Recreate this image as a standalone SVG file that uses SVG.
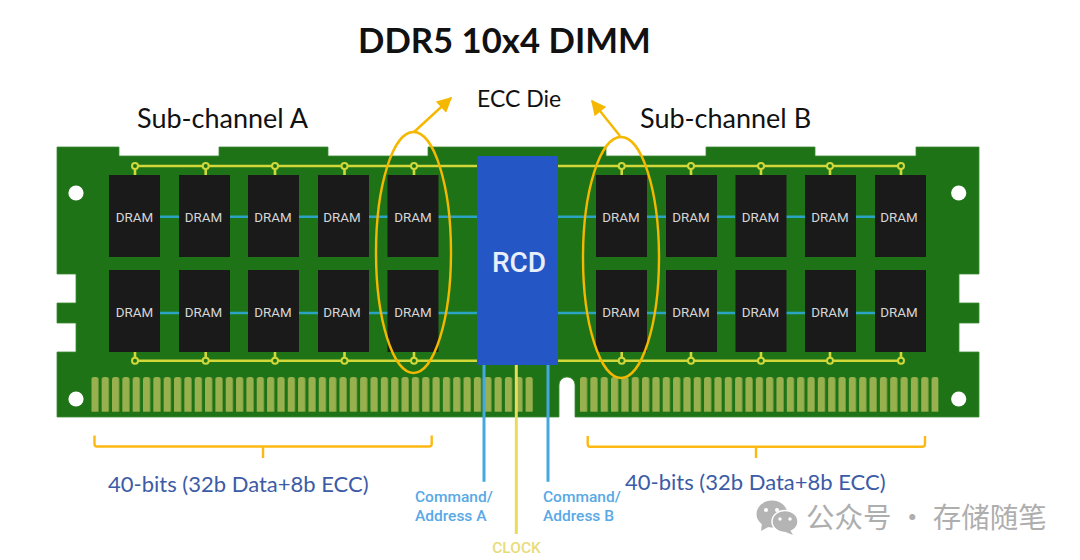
<svg xmlns="http://www.w3.org/2000/svg" width="1080" height="560" viewBox="0 0 1080 560">
<style>
.chip{fill:#1a1a1a}
.dl{font:400 13.400px Roboto,sans-serif;fill:#d6d6d6;text-anchor:middle}
.cy{stroke:#2aa3c4;stroke-width:2.400;fill:none}
.bus{stroke:#d3d83a;stroke-width:2.600;fill:none}
.tap{stroke:#d3d83a;stroke-width:2;fill:#1f7317}
.hole{fill:#fff}
.gold{stroke:#f5b800;stroke-width:2.400;fill:none}
.br{stroke:#fdb913;stroke-width:2.400;fill:none}
.cal{font-family:Lato,"Open Sans",sans-serif;fill:#111}
.bits{font:22px Lato,"Open Sans",sans-serif;fill:#3c5ba6}
.ca{font:500 15.500px Roboto,sans-serif;fill:#58a9e6}
</style>
<defs>
<pattern id="fl" x="91.3" y="0" width="10.34" height="560" patternUnits="userSpaceOnUse"><rect x="0" y="377" width="7.2" height="40" rx="2.5" fill="#98b04e"/></pattern>
<pattern id="fr" x="580" y="0" width="10.34" height="560" patternUnits="userSpaceOnUse"><rect x="0" y="377" width="7.2" height="40" rx="2.5" fill="#98b04e"/></pattern>
<marker id="ah" viewBox="0 0 10 10" refX="9" refY="5" markerWidth="16" markerHeight="15" markerUnits="userSpaceOnUse" orient="auto"><path d="M0 0L10 5L0 10Z" fill="#f5b800"/></marker>
</defs>
<rect width="1080" height="560" fill="#fff"/>
<g id="board">
<path d="M57 147H119V156H219V147H328V156H428V147H606V156H706V147H815V156H916V147H979V274H959V303H979V323H959V352H979V417H575V385A8 8 0 0 0 559 385V417H57V352H76V323H57V303H76V274H57Z" fill="#1f7317" stroke="#3d8a35" stroke-width=".8"/>
<circle class="hole" cx="76" cy="193" r="7.6"/><circle class="hole" cx="76" cy="399" r="7.6"/>
<circle class="hole" cx="958.7" cy="193" r="7.6"/><circle class="hole" cx="958.7" cy="399" r="7.6"/>
<rect x="91.3" y="377" width="442" height="34.7" fill="url(#fl)"/>
<rect x="580" y="377" width="358.5" height="34.7" fill="url(#fr)"/>
</g>
<g id="connectors">
<g id="data-lines">
<path class="cy" d="M160 216.7H179M230 216.7H248M299 216.7H318M369 216.7H388M438 216.7H477M558 216.7H596M647 216.7H666M717 216.7H735M786 216.7H805M856 216.7H875"/>
<path class="cy" d="M160 313H179M230 313H248M299 313H318M369 313H388M438 313H477M558 313H596M647 313H666M717 313H735M786 313H805M856 313H875"/>
</g>
<g id="clock-bus">
<path class="bus" d="M135 166H477M558 166H901M135 360.7H477M558 360.7H901"/>
<path class="bus" d="M135 166V175M205.7 166V175M275 166V175M344.5 166V175M414 166V175M621.7 166V175M691 166V175M761 166V175M830 166V175M901 166V175M135 352V361M205.7 352V361M275 352V361M344.5 352V361M414 352V361M621.7 352V361M691 352V361M761 352V361M830 352V361M901 352V361"/>
<g class="tap">
<circle cx="135" cy="166" r="3"/><circle cx="205.7" cy="166" r="3"/><circle cx="275" cy="166" r="3"/><circle cx="344.5" cy="166" r="3"/><circle cx="414" cy="166" r="3"/><circle cx="621.7" cy="166" r="3"/><circle cx="691" cy="166" r="3"/><circle cx="761" cy="166" r="3"/><circle cx="830" cy="166" r="3"/><circle cx="901" cy="166" r="3"/>
<circle cx="135" cy="360.7" r="3"/><circle cx="205.7" cy="360.7" r="3"/><circle cx="275" cy="360.7" r="3"/><circle cx="344.5" cy="360.7" r="3"/><circle cx="414" cy="360.7" r="3"/><circle cx="621.7" cy="360.7" r="3"/><circle cx="691" cy="360.7" r="3"/><circle cx="761" cy="360.7" r="3"/><circle cx="830" cy="360.7" r="3"/><circle cx="901" cy="360.7" r="3"/>
</g>
</g>
<path d="M484 365V481.7M548 365V481.7" stroke="#46a8e0" stroke-width="3" fill="none"/>
<path d="M516.3 365V534" stroke="#e8dc5a" stroke-width="3" fill="none"/>
<path class="gold" marker-end="url(#ah)" d="M414 132L451 98"/>
<path class="gold" marker-end="url(#ah)" d="M620 136L592 101"/>
</g>
<g id="chips">
<g id="a1-1"><rect class="chip" x="109" y="175" width="51" height="82"/><text class="dl" x="134.5" y="221.5">DRAM</text></g>
<g id="a1-2"><rect class="chip" x="179" y="175" width="51" height="82"/><text class="dl" x="203.5" y="221.5">DRAM</text></g>
<g id="a1-3"><rect class="chip" x="248" y="175" width="51" height="82"/><text class="dl" x="273" y="221.5">DRAM</text></g>
<g id="a1-4"><rect class="chip" x="318" y="175" width="51" height="82"/><text class="dl" x="342" y="221.5">DRAM</text></g>
<g id="a1-5"><rect class="chip" x="387.500" y="175" width="51" height="82"/><text class="dl" x="413" y="221.5">DRAM</text></g>
<g id="a2-1"><rect class="chip" x="109" y="270" width="51" height="82"/><text class="dl" x="134.5" y="317">DRAM</text></g>
<g id="a2-2"><rect class="chip" x="179" y="270" width="51" height="82"/><text class="dl" x="203.5" y="317">DRAM</text></g>
<g id="a2-3"><rect class="chip" x="248" y="270" width="51" height="82"/><text class="dl" x="273" y="317">DRAM</text></g>
<g id="a2-4"><rect class="chip" x="318" y="270" width="51" height="82"/><text class="dl" x="342" y="317">DRAM</text></g>
<g id="a2-5"><rect class="chip" x="387.500" y="270" width="51" height="82"/><text class="dl" x="413" y="317">DRAM</text></g>
<g id="b1-1"><rect class="chip" x="596" y="175" width="51" height="82"/><text class="dl" x="621" y="221.5">DRAM</text></g>
<g id="b1-2"><rect class="chip" x="666" y="175" width="51" height="82"/><text class="dl" x="691" y="221.5">DRAM</text></g>
<g id="b1-3"><rect class="chip" x="735.500" y="175" width="51" height="82"/><text class="dl" x="760.500" y="221.5">DRAM</text></g>
<g id="b1-4"><rect class="chip" x="805" y="175" width="51" height="82"/><text class="dl" x="830" y="221.5">DRAM</text></g>
<g id="b1-5"><rect class="chip" x="875" y="175" width="51" height="82"/><text class="dl" x="899" y="221.5">DRAM</text></g>
<g id="b2-1"><rect class="chip" x="596" y="270" width="51" height="82"/><text class="dl" x="621" y="317">DRAM</text></g>
<g id="b2-2"><rect class="chip" x="666" y="270" width="51" height="82"/><text class="dl" x="691" y="317">DRAM</text></g>
<g id="b2-3"><rect class="chip" x="735.500" y="270" width="51" height="82"/><text class="dl" x="760.500" y="317">DRAM</text></g>
<g id="b2-4"><rect class="chip" x="805" y="270" width="51" height="82"/><text class="dl" x="830" y="317">DRAM</text></g>
<g id="b2-5"><rect class="chip" x="875" y="270" width="51" height="82"/><text class="dl" x="899" y="317">DRAM</text></g>
</g>
<g id="rcd"><rect x="477" y="156" width="81" height="209" fill="#2457c5"/><text x="519" y="272" font-family="Roboto,sans-serif" font-weight="500" font-size="28" fill="#e8eefb" text-anchor="middle">RCD</text></g>
<g id="ecc-rings">
<ellipse class="gold" cx="413.500" cy="252.500" rx="37.500" ry="120.500"/>
<ellipse class="gold" cx="621" cy="257.500" rx="38" ry="120.500"/>
</g>
<g id="brackets">
<path class="br" d="M94.500 435.500V444Q94.500 446.500 97 446.500H429Q431.700 446.500 431.700 444V435.500M263 446.500V458"/>
<path class="br" d="M587.700 436V444Q587.700 446.700 590 446.700H922Q925 446.700 925 444V436M756 446.700V458"/>
</g>
<g id="labels">
<text class="cal" x="358" y="53" font-size="34.700" font-weight="700">DDR5 10x4 DIMM</text>
<text class="cal" x="477" y="107" font-size="23">ECC Die</text>
<text class="cal" x="137" y="128" font-size="27">Sub-channel A</text>
<text class="cal" x="640" y="128" font-size="27">Sub-channel B</text>
<text class="bits" x="108" y="492">40-bits (32b Data+8b ECC)</text>
<text class="bits" x="625" y="490">40-bits (32b Data+8b ECC)</text>
<text class="ca" x="415" y="501.500">Command/</text><text class="ca" x="415" y="520.500">Address A</text>
<text class="ca" x="543" y="501.500">Command/</text><text class="ca" x="543" y="520.500">Address B</text>
<text x="516.500" y="553" font-family="Roboto,sans-serif" font-weight="500" font-size="15.500" fill="#e8dc7a" text-anchor="middle">CLOCK</text>
</g>
<g id="watermark">
<ellipse cx="772" cy="514" rx="15.500" ry="13.500" fill="#b4b4b4"/>
<path d="M762 523L761 531L770 526Z" fill="#b4b4b4"/>
<ellipse cx="785" cy="521.500" rx="13" ry="11" fill="#b4b4b4" stroke="#fff" stroke-width="1.500"/>
<path d="M790 530L793 535L783 531Z" fill="#b4b4b4"/>
<circle cx="766" cy="510" r="2" fill="#fff"/><circle cx="777" cy="510" r="2" fill="#fff"/>
<circle cx="780" cy="519" r="1.700" fill="#fff"/><circle cx="790" cy="519" r="1.700" fill="#fff"/>
<text x="806" y="527.500" font-family="'Noto Sans CJK SC',sans-serif" font-size="28.500" fill="#aeaeae" xml:space="preserve">公众号 · 存储随笔</text>
</g>
</svg>
